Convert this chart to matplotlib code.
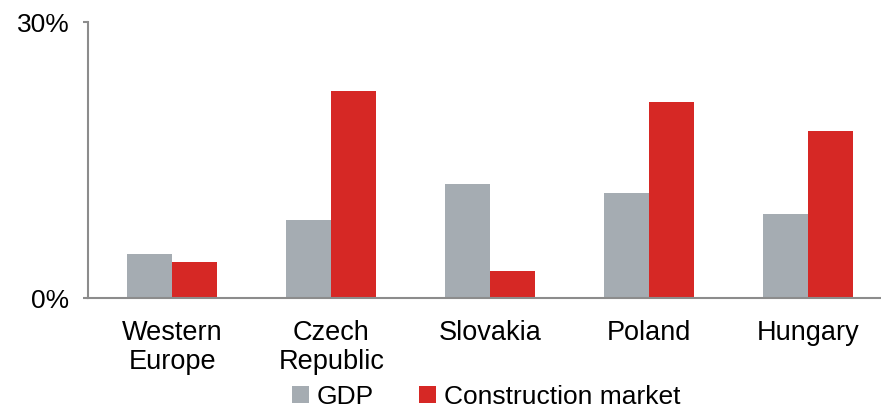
import matplotlib.pyplot as plt
import numpy as np

plt.rcParams['font.family'] = ['Liberation Sans', 'DejaVu Sans']

# data
categories = ["Western\nEurope", "Czech\nRepublic", "Slovakia", "Poland", "Hungary"]
gdp = [4.8, 8.5, 12.4, 11.4, 9.1]
construction = [3.9, 22.5, 2.9, 21.3, 18.2]
series_names = ["GDP", "Construction market"]
yticks = [0, 30]

grey = "#A5ACB2"
red = "#D62825"
axis_col = "#8C8C8C"

fig = plt.figure(figsize=(8.81, 4.09), dpi=100)
ax = fig.add_axes([0.1, 0.271, 0.9126, 0.675])

x = np.arange(len(categories))
w = 0.283
b1 = ax.bar(x - w / 2, gdp, w, color=grey, label=series_names[0])
b2 = ax.bar(x + w / 2, construction, w, color=red, label=series_names[1])

ax.set_xlim(-0.53, 4.53)
ax.set_ylim(0, 30)
ax.set_yticks(yticks)
ax.set_yticklabels([f"{t}%" for t in yticks], fontsize=19)
ax.set_xticks(x)
ax.set_xticklabels(categories, fontsize=19.5, linespacing=1.13)
ax.tick_params(axis='x', length=0, pad=16)
ax.tick_params(axis='y', length=3.5, width=1.5, color=axis_col, pad=10)

for s in ['top', 'right']:
    ax.spines[s].set_visible(False)
for s in ['left', 'bottom']:
    ax.spines[s].set_color(axis_col)
    ax.spines[s].set_linewidth(1.5)

fig.legend(handles=[b1, b2], loc='center', bbox_to_anchor=(0.552, 0.03),
           ncol=2, frameon=False, fontsize=19, handlelength=0.65, handleheight=0.65,
           handletextpad=0.3, columnspacing=1.7, borderpad=0.1)

plt.savefig("out.png", dpi=100)
